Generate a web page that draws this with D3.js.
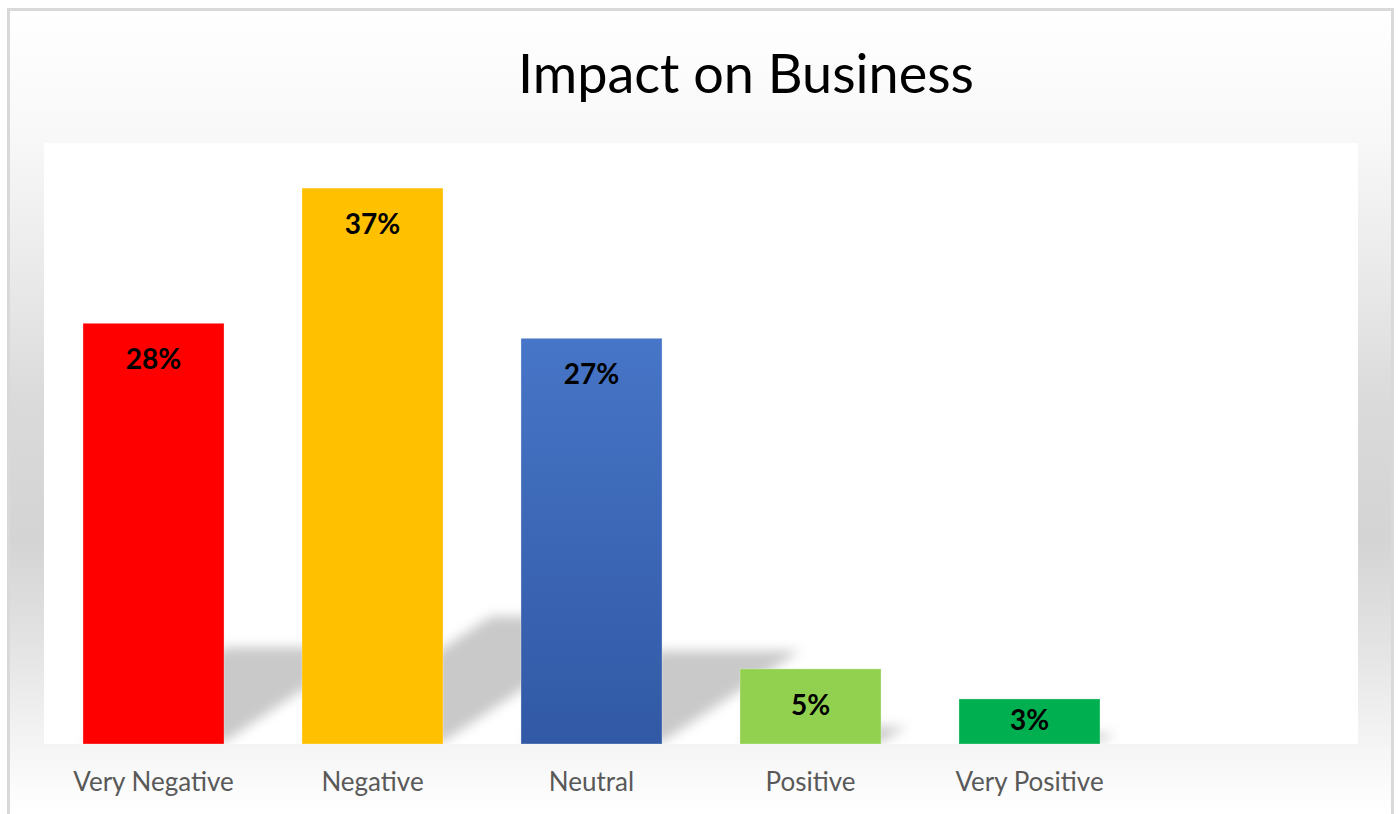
<!DOCTYPE html>
<html>
<head>
<meta charset="utf-8">
<script src="https://cdn.jsdelivr.net/npm/d3@7"></script>
<style>
  html, body { margin: 0; padding: 0; background: #ffffff; }
  svg { display: block; }
</style>
</head>
<body>
<svg id="chart" width="1398" height="814"></svg>
<script>
// Survey result: impact on business (share of respondents, %)
const title = "Impact on Business";
const categories = ["Very Negative", "Negative", "Neutral", "Positive", "Very Positive", ""];
const values = [28, 37, 27, 5, 3, null];
const barColors = ["#FF0000", "#FFC000", "neutral", "#92D050", "#00B050", null];
const yDomain = [0, 40];

const W = 1398, H = 814;
const plot = { left: 44, top: 143, right: 1358, bottom: 744 };

const svg = d3.select("#chart");
const defs = svg.append("defs");

// chart-area background: soft vertical grey band
const bg = defs.append("linearGradient")
  .attr("id", "bgGrad").attr("gradientUnits", "userSpaceOnUse")
  .attr("x1", 0).attr("y1", 8).attr("x2", 0).attr("y2", 814);
[[0, "#ffffff"], [0.16, "#f8f8f8"], [0.36, "#e7e7e7"], [0.49, "#dadada"],
 [0.66, "#d4d4d4"], [0.78, "#e2e2e2"], [0.88, "#f0f0f0"], [0.94, "#f8f8f8"], [1, "#ffffff"]]
  .forEach(([o, c]) => bg.append("stop").attr("offset", o).attr("stop-color", c));

// blue bar gradient
const blue = defs.append("linearGradient")
  .attr("id", "neutralGrad").attr("x1", 0).attr("y1", 0).attr("x2", 0).attr("y2", 1);
blue.append("stop").attr("offset", 0).attr("stop-color", "#4775C7");
blue.append("stop").attr("offset", 1).attr("stop-color", "#3159A5");

defs.append("filter").attr("id", "shadowBlur")
  .attr("x", "-20%").attr("y", "-20%").attr("width", "140%").attr("height", "140%")
  .append("feGaussianBlur").attr("stdDeviation", 6);

defs.append("clipPath").attr("id", "plotClip")
  .append("rect")
  .attr("x", plot.left).attr("y", plot.top)
  .attr("width", plot.right - plot.left).attr("height", plot.bottom - plot.top);

// chart area with border
svg.append("rect")
  .attr("x", 8.5).attr("y", 9.5).attr("width", 1384).attr("height", 830)
  .attr("fill", "url(#bgGrad)").attr("stroke", "#d9d9d9").attr("stroke-width", 3);

// plot area
svg.append("rect")
  .attr("x", plot.left).attr("y", plot.top)
  .attr("width", plot.right - plot.left).attr("height", plot.bottom - plot.top)
  .attr("fill", "#ffffff");

const x = d3.scaleBand()
  .domain(categories)
  .range([plot.left, plot.right])
  .paddingInner(0.356).paddingOuter(0.178);

const y = d3.scaleLinear().domain(yDomain).range([plot.bottom, plot.top]);

const rows = categories
  .map((c, i) => ({ cat: c, v: values[i], color: barColors[i] }))
  .filter(d => d.v != null);

const fillOf = d => d.color === "neutral" ? "url(#neutralGrad)" : d.color;

// perspective shadows cast up and to the right
const shadowK = 0.23, shadowSkew = 0.34;
svg.append("g").attr("clip-path", "url(#plotClip)")
  .append("g").attr("filter", "url(#shadowBlur)")
  .selectAll("polygon").data(rows).join("polygon")
  .attr("fill", "#000").attr("fill-opacity", 0.21)
  .attr("points", d => {
    const x0 = x(d.cat), x1 = x0 + x.bandwidth();
    const h = y(0) - y(d.v);
    const dx = h * shadowSkew, top = y(0) - h * shadowK;
    return [[x0, y(0) - 2], [x1, y(0) - 2], [x1 + dx, top], [x0 + dx, top]].join(" ");
  });

// bars
svg.append("g").selectAll("rect").data(rows).join("rect")
  .attr("x", d => x(d.cat))
  .attr("y", d => y(d.v))
  .attr("width", x.bandwidth())
  .attr("height", d => y(0) - y(d.v))
  .attr("fill", fillOf)
  .attr("stroke", "#ffffff").attr("stroke-opacity", 0.3).attr("stroke-width", 1);

// value labels inside the bar ends
svg.append("g").selectAll("text").data(rows).join("text")
  .attr("x", d => x(d.cat) + x.bandwidth() / 2)
  .attr("y", d => Math.min(y(d.v) + 46, (y(d.v) + y(0)) / 2 + 9))
  .attr("text-anchor", "middle")
  .attr("font-family", "Lato, 'DejaVu Sans', sans-serif")
  .attr("font-weight", "bold").attr("font-size", 28)
  .attr("fill", "#000000")
  .text(d => d.v + "%");

// category axis
const fsAxis = 26;
const xAxis = svg.append("g")
  .attr("transform", `translate(0,${plot.bottom})`)
  .call(d3.axisBottom(x).tickSize(0).tickPadding(47 - 0.71 * fsAxis));
xAxis.select(".domain").remove();
xAxis.selectAll("text")
  .attr("font-family", "Lato, 'DejaVu Sans', sans-serif")
  .attr("font-size", fsAxis)
  .attr("fill", "#595959");

// title
svg.append("text")
  .attr("x", 746).attr("y", 93)
  .attr("text-anchor", "middle")
  .attr("font-family", "Lato, 'DejaVu Sans', sans-serif")
  .attr("font-size", 54)
  .attr("fill", "#000000")
  .text(title);
</script>
</body>
</html>
